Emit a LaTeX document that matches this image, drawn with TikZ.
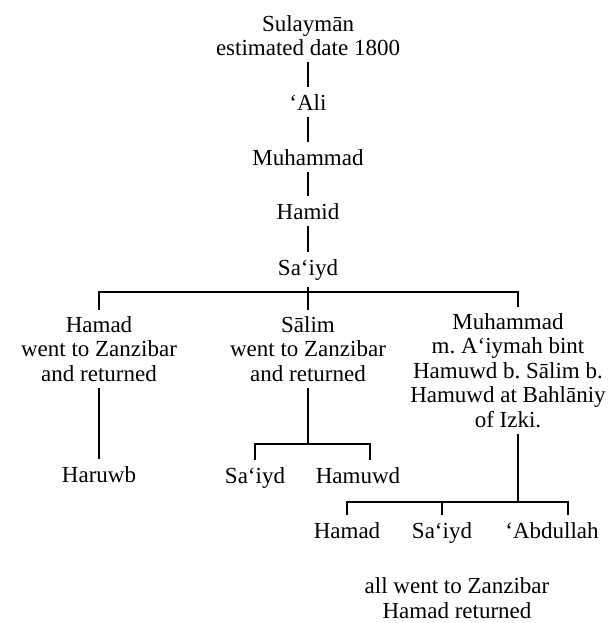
\documentclass[tikz,border=0pt]{standalone}
\usepackage{fontspec}
\setmainfont{Liberation Serif}
\frenchspacing
\begin{document}
\begin{tikzpicture}[
	x=0.5pt,
	y=-0.5pt,
	font=\fontsize{11.5}{12.2}\selectfont,
	line width=0.7pt,
	person/.style={align=center, inner sep=3pt},
	single/.style={person, anchor=base}
	]
	\useasboundingbox (0,0) rectangle (610,623);

	% --- main line: Sulayman down to Sa'iyd ---
	\node[person] (sulayman) at (308,35.5) {Sulaymān\\estimated date 1800};
	\node[single] (ali) at (308,110) {‘Ali};
	\node[single] (muhammad) at (308,165) {Muhammad};
	\node[single] (hamid) at (308,219) {Hamid};
	\node[single] (saiyd) at (308,275) {Sa‘iyd};
	\foreach \a/\b in {sulayman/ali, ali/muhammad, muhammad/hamid, hamid/saiyd} {
		\draw (\a) -- (\b);
	}

	% --- sons of Sa'iyd ---
	\node[person] (hamad) at (99,349) {Hamad\\went to Zanzibar\\and returned};
	\node[person] (salim) at (308,349) {Sālim\\went to Zanzibar\\and returned};
	\node[person] (muhammadb) at (508,370.5)
		{Muhammad\\m. A‘iymah bint\\Hamuwd b. Sālim b.\\Hamuwd at Bahlāniy\\of Izki.};
	\coordinate (fork) at (308,292);
	\draw (saiyd) -- (salim);
	\draw (hamad.north) |- (fork) -| ([xshift=5pt]muhammadb.north);

	% Hamad: one son
	\node[single] (haruwb) at (99,482) {Haruwb};
	\draw (hamad) -- (haruwb);

	% Salim: two sons
	\node[single] (saiydb) at (255,483) {Sa‘iyd};
	\node[single] (hamuwd) at (358,483) {Hamuwd};
	\coordinate (forkb) at (308,444);
	\draw (salim.south) -- (forkb);
	\draw (saiydb.north) |- (forkb) -| ([xshift=6pt]hamuwd.north);

	% Muhammad: three sons
	\node[single] (hamadc) at (347,538) {Hamad};
	\node[single] (saiydc) at (442,538) {Sa‘iyd};
	\node[single] (abdullah) at (552,538) {‘Abdullah};
	\coordinate (forkc) at (518,502);
	\draw ([xshift=5pt]muhammadb.south) -- (forkc);
	\draw (hamadc.north) |- (forkc) -| ([xshift=8pt]abdullah.north);
	\draw (saiydc.north) -- (saiydc.north |- forkc);

	\node[person, inner sep=1pt] (note) at (457,598) {all went to Zanzibar\\Hamad returned};
\end{tikzpicture}
\end{document}
